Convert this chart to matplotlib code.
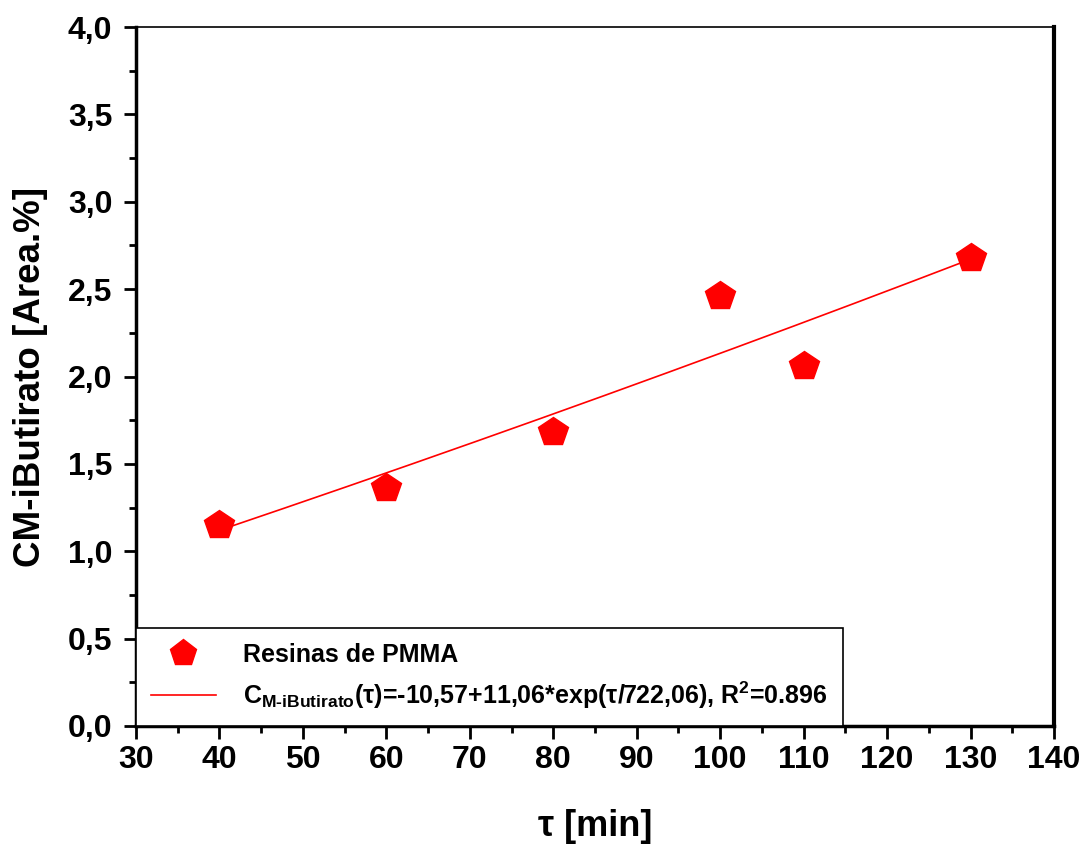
import matplotlib
matplotlib.use("Agg")
import matplotlib.pyplot as plt
import numpy as np
from matplotlib.ticker import MultipleLocator, FuncFormatter

plt.rcParams['font.family'] = ['Liberation Sans', 'DejaVu Sans']
plt.rcParams['mathtext.fontset'] = 'custom'
plt.rcParams['mathtext.rm'] = 'Liberation Sans:bold'
plt.rcParams['mathtext.bf'] = 'Liberation Sans:bold'
plt.rcParams['mathtext.it'] = 'Liberation Sans:bold'

# data
tau = [40, 60, 80, 100, 110, 130]
conc = [1.15, 1.36, 1.68, 2.46, 2.06, 2.68]
# fit parameters (from legend)
fit_a, fit_b, fit_t = -10.57, 11.06, 722.06
fit_range = [40, 130]

fig = plt.figure(figsize=(10.92, 8.47), dpi=100)
ax = fig.add_axes([0.1245, 0.1429, 0.8407, 0.8251])

ax.plot(tau, conc, linestyle='none', marker='p', markersize=22, color='red',
        label='Resinas de PMMA', zorder=3)
tt = np.linspace(fit_range[0], fit_range[1], 200)
ax.plot(tt, fit_a + fit_b * np.exp(tt / fit_t), color='red', lw=1.2,
        label=r'C$_{\mathrm{M\text{-}iButirato}}$(τ)=-10,57+11,06*exp(τ/722,06), R$^{2}$=0.896')

ax.set_xlim(30, 140)
ax.set_ylim(0, 4.0)
ax.xaxis.set_major_locator(MultipleLocator(10))
ax.xaxis.set_minor_locator(MultipleLocator(5))
ax.yaxis.set_major_locator(MultipleLocator(0.5))
ax.yaxis.set_minor_locator(MultipleLocator(0.25))
ax.yaxis.set_major_formatter(FuncFormatter(lambda v, p: f"{v:.1f}".replace('.', ',')))

ax.tick_params(which='major', direction='out', length=9, width=2, labelsize=23, pad=5)
ax.tick_params(axis='y', which='major', pad=8)
ax.tick_params(which='minor', direction='out', length=5, width=2)
for lab in ax.get_xticklabels() + ax.get_yticklabels():
    lab.set_fontweight('bold')

ax.spines['left'].set_linewidth(2.5)
ax.spines['bottom'].set_linewidth(2.5)
ax.spines['right'].set_linewidth(3)
ax.spines['top'].set_linewidth(1.2)

ax.set_xlabel('τ [min]', fontsize=26, fontweight='bold', labelpad=24)
ax.set_ylabel('CM-iButirato [Area.%]', fontsize=26.5, fontweight='bold', labelpad=14)

leg = ax.legend(loc='lower left', borderaxespad=0, fancybox=False, edgecolor='black',
                framealpha=1, prop={'size': 18, 'weight': 'bold'}, handlelength=2.6,
                borderpad=0.6, labelspacing=0.5, handletextpad=1.1, numpoints=1,
                markerscale=0.9)
leg.get_frame().set_linewidth(1.2)

fig.savefig('out.png', dpi=100)
